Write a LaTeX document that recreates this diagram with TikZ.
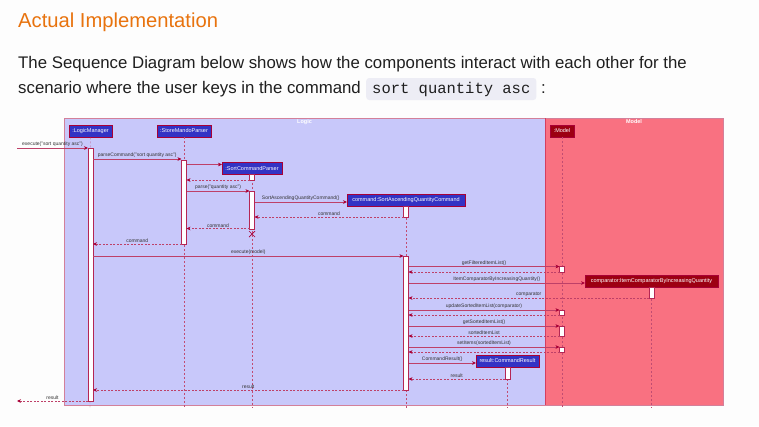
\documentclass[tikz,border=0pt]{standalone}
\usepackage{fontspec}
\setmainfont{Liberation Sans}
\setmonofont{Liberation Mono}
\usetikzlibrary{arrows.meta}

\definecolor{plum}{HTML}{A80036}
\definecolor{logicT}{HTML}{C8C8FA}
\definecolor{modelT}{HTML}{F97181}
\definecolor{logicC}{HTML}{3333C4}
\definecolor{modelC}{HTML}{9D0012}
\definecolor{heading}{HTML}{E8730E}
\definecolor{bodytext}{HTML}{1F1F1F}
\definecolor{codebg}{HTML}{EDEDF5}
\definecolor{pagebg}{HTML}{FDFDFD}

\newcounter{seqmsg}
% one message: [style]{x from}{x to}{y}{label}
\newcommand\seqcall[5][call]{%
  \stepcounter{seqmsg}%
  \coordinate (src\theseqmsg) at (#2,#4);
  \coordinate (dst\theseqmsg) at (#3,#4);
  \draw[#1] (src\theseqmsg) -- node[msglabel] {#5} (dst\theseqmsg);
}

\tikzset{
  frame/.style={draw=plum!50, line width=0.7pt},
  frametitle/.style={text=white, font=\bfseries\fontsize{5.5}{6}\selectfont, inner sep=0pt, anchor=base},
  participant/.style={draw=plum, line width=0.5pt, text=white,
    font=\fontsize{5.5}{6}\selectfont, inner xsep=1.5pt, inner ysep=0pt, minimum height=12pt},
  logicpart/.style={participant, fill=logicC},
  modelpart/.style={participant, fill=modelC},
  lifeline/.style={draw=plum!70, line width=0.45pt, dash pattern=on 2pt off 2pt},
  actbar/.style={draw=plum!85, fill=white, line width=0.5pt, inner sep=0pt, minimum width=5pt},
  call/.style={draw=plum!75, line width=0.5pt, -{Stealth[length=4pt,width=3.6pt,inset=1.2pt,color=plum]}},
  reply/.style={call, dash pattern=on 2pt off 1.5pt},
  msglabel/.style={font=\fontsize{5}{6}\selectfont, text=black!80, inner sep=0.3pt, above=0.5pt},
  prose/.style={anchor=base west, inner sep=0pt, text=bodytext, font=\fontsize{16.8}{20}\selectfont},
  codechip/.style={anchor=base west, fill=codebg, rounded corners=3pt, inner xsep=6pt, inner ysep=0pt,
    text height=15pt, text depth=7pt, text=bodytext, font=\ttfamily\fontsize{15.5}{18}\selectfont}
}

\begin{document}
\begin{tikzpicture}[x=1pt,y=-1pt]
\fill[pagebg] (0,0) rectangle (759,426);
\useasboundingbox (0,0) rectangle (759,426);

% heading and prose
\node[anchor=base west, inner sep=0pt, text=heading, font=\fontsize{20.2}{24}\selectfont] (title) at (18,27) {Actual Implementation};
\node[prose] (line1) at (18,68) {The Sequence Diagram below shows how the components interact with each other for the};
\node[prose] (line2) at (18,93) {scenario where the user keys in the command};
\node[codechip] (cmd) at (366,93) {sort quantity asc};
\node[prose] (colon) at (541,93) {:};

% package frames
\filldraw[frame, fill=logicT] (64,118) rectangle (545,405);
\filldraw[frame, fill=modelT] (545,118) rectangle (723,405);
\draw[draw=plum!45!modelT, line width=1.4pt] (545.7,118) -- (545.7,405);
\node[frametitle] (logicTitle) at (304.5,123.5) {Logic};
\node[frametitle] (modelTitle) at (634,123.5) {Model};

% participants
\node[logicpart, minimum width=43pt] (lm) at (90.5,131) {:LogicManager};
\node[logicpart, minimum width=54pt] (smp) at (184,131) {:StoreMandoParser};
\node[logicpart, minimum width=60pt] (scp) at (252,168.5) {:SortCommandParser};
\node[logicpart, minimum width=118pt] (saqc) at (406,200) {command:SortAscendingQuantityCommand};
\node[modelpart, minimum width=24pt] (model) at (562,131) {:Model};
\node[modelpart, minimum width=133pt] (cmp) at (651.5,281) {comparator:ItemComparatorByIncreasingQuantity};
\node[logicpart, minimum width=63pt] (res) at (507.5,361) {result:CommandResult};

% lifelines
\coordinate (lmEnd) at (90,408);
\coordinate (smpEnd) at (184,408);
\coordinate (scpEnd) at (252,408);
\coordinate (saqcEnd) at (406,408);
\coordinate (modelEnd) at (562,408);
\coordinate (cmpEnd) at (651.5,408);
\coordinate (resEnd) at (507.5,408);
\draw[lifeline] (lm.south) -- (lmEnd);
\draw[lifeline] (smp.south) -- (smpEnd);
\draw[lifeline] (scp.south) -- (scpEnd);
\draw[lifeline] (saqc.south) -- (saqcEnd);
\draw[lifeline] (model.south) -- (modelEnd);
\draw[lifeline] (cmp.south) -- (cmpEnd);
\draw[lifeline] (res.south) -- (resEnd);

% activation bars
\node[actbar, minimum height=253pt] (lmAct) at (90.5,274.5) {};
\node[actbar, minimum height=84pt] (smpAct) at (184,202) {};
\node[actbar, minimum height=6pt] (scpAct1) at (252,177) {};
\node[actbar, minimum height=38pt] (scpAct2) at (252,210) {};
\node[actbar, minimum height=11pt] (saqcAct1) at (406,211.5) {};
\node[actbar, minimum height=134pt] (saqcAct2) at (406,323) {};
\node[actbar, minimum height=6pt] (modelAct1) at (562,269) {};
\node[actbar, minimum height=5pt] (modelAct2) at (562,312.5) {};
\node[actbar, minimum height=10pt] (modelAct3) at (562,331) {};
\node[actbar, minimum height=5pt] (modelAct4) at (562,349.5) {};
\node[actbar, minimum height=11pt] (cmpAct) at (651.5,292.5) {};
\node[actbar, minimum height=12pt] (resAct) at (507.5,373) {};

% messages
\seqcall{17}{88}{148}{execute("sort quantity asc")}
\seqcall{93}{181.5}{159}{parseCommand("sort quantity asc")}
\seqcall{186.5}{222}{164.5}{}
\seqcall[reply]{249.5}{186.5}{180}{}
\seqcall{186.5}{249.5}{191}{parse("quantity asc")}
\seqcall{254.5}{347}{202}{SortAscendingQuantityCommand()}
\seqcall[reply]{403.5}{254.5}{217}{command}
\seqcall[reply]{249.5}{186.5}{228.5}{command}
\seqcall[reply]{181.5}{93}{244}{command}
\seqcall{93}{403.5}{256}{execute(model)}
\seqcall{408.5}{559.5}{266.5}{getFilteredItemList()}
\seqcall[reply]{559.5}{408.5}{272}{}
\seqcall{408.5}{585}{283}{ItemComparatorByIncreasingQuantity()}
\seqcall[reply]{649}{408.5}{298}{comparator}
\seqcall{408.5}{559.5}{310}{updateSortedItemList(comparator)}
\seqcall[reply]{559.5}{408.5}{315}{}
\seqcall{408.5}{559.5}{326}{getSortedItemList()}
\seqcall[reply]{559.5}{408.5}{336}{sortedItemList}
\seqcall{408.5}{559.5}{347}{setItems(sortedItemList)}
\seqcall[reply]{559.5}{408.5}{352}{}
\seqcall{408.5}{476}{363}{CommandResult()}
\seqcall[reply]{505}{408.5}{379}{result}
\seqcall[reply]{403.5}{93}{390}{result}
\seqcall[reply]{88}{17}{401}{result}

% destruction of the parser
\coordinate (scpKill) at (252,234);
\draw[plum, line width=0.7pt] ([shift={(-3,-3)}]scpKill) -- ([shift={(3,3)}]scpKill)
  ([shift={(-3,3)}]scpKill) -- ([shift={(3,-3)}]scpKill);
\end{tikzpicture}
\end{document}
